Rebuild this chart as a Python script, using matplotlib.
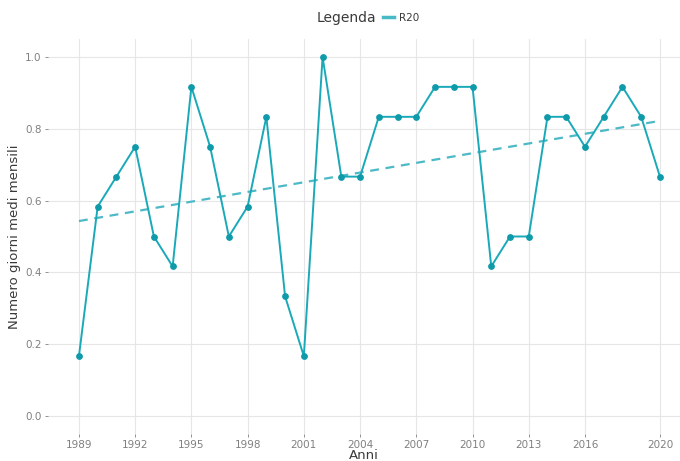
import matplotlib

matplotlib.use("Agg")
import matplotlib.pyplot as plt
from matplotlib.lines import Line2D

# R20: average number of days per month, 1989-2020
years = list(range(1989, 2021))
r20 = [
    0.1667, 0.5833, 0.6667, 0.75, 0.5, 0.4167, 0.9167, 0.75,
    0.5, 0.5833, 0.8333, 0.3333, 0.1667, 1.0, 0.6667, 0.6667,
    0.8333, 0.8333, 0.8333, 0.9167, 0.9167, 0.9167, 0.4167, 0.5,
    0.5, 0.8333, 0.8333, 0.75, 0.8333, 0.9167, 0.8333, 0.6667,
]
# linear trend, read at the two ends
trend_years = [1989, 2020]
trend_vals = [0.543, 0.822]

x_ticks = [1989, 1992, 1995, 1998, 2001, 2004, 2007, 2010, 2013, 2016, 2020]
y_ticks = [0.0, 0.2, 0.4, 0.6, 0.8, 1.0]

LINE = "#1aa9b8"
POINT = "#0f9aaa"
TREND = "#4cb9c6"
GRID = "#e6e6e6"
TICK = "#808080"

fig = plt.figure(figsize=(6.8, 4.61), dpi=100)
ax = fig.add_axes([48 / 680, 27 / 461, 632 / 680, 395 / 461])

ax.plot(years, r20, color=LINE, lw=1.4, zorder=3)
ax.scatter(years, r20, color=POINT, s=15, zorder=4)
ax.plot(trend_years, trend_vals, color=TREND, lw=1.6, ls=(0, (4, 3)), zorder=2)

ax.set_xlim(1987.35, 2021.07)
ax.set_ylim(-0.05, 1.05)
ax.set_xticks(x_ticks)
ax.set_yticks(y_ticks)
ax.set_yticklabels(["%.1f" % v for v in y_ticks])
ax.grid(True, color=GRID, lw=0.8)
ax.set_axisbelow(True)
for s in ax.spines.values():
    s.set_visible(False)
ax.tick_params(colors=TICK, labelsize=7.5, length=2.5, width=0.6, pad=2)

ax.set_xlabel("Anni", fontsize=9.5, color="#3a3a3a", labelpad=-1)
ax.set_ylabel("Numero giorni medi mensili", fontsize=9.5, color="#3a3a3a", labelpad=3)

fig.text(346 / 680, 1 - 18 / 461, "Legenda", fontsize=10, color="#3a3a3a",
         ha="center", va="center")
handle = Line2D([], [], color=LINE, lw=2.5, alpha=0.8)
fig.legend(handles=[handle], labels=["R20"], loc="center left",
           bbox_to_anchor=(374 / 680, 1 - 18 / 461), frameon=False,
           fontsize=7.5, handlelength=1.0, handletextpad=0.5,
           labelcolor="#3a3a3a")

fig.savefig("out.png", dpi=100)
